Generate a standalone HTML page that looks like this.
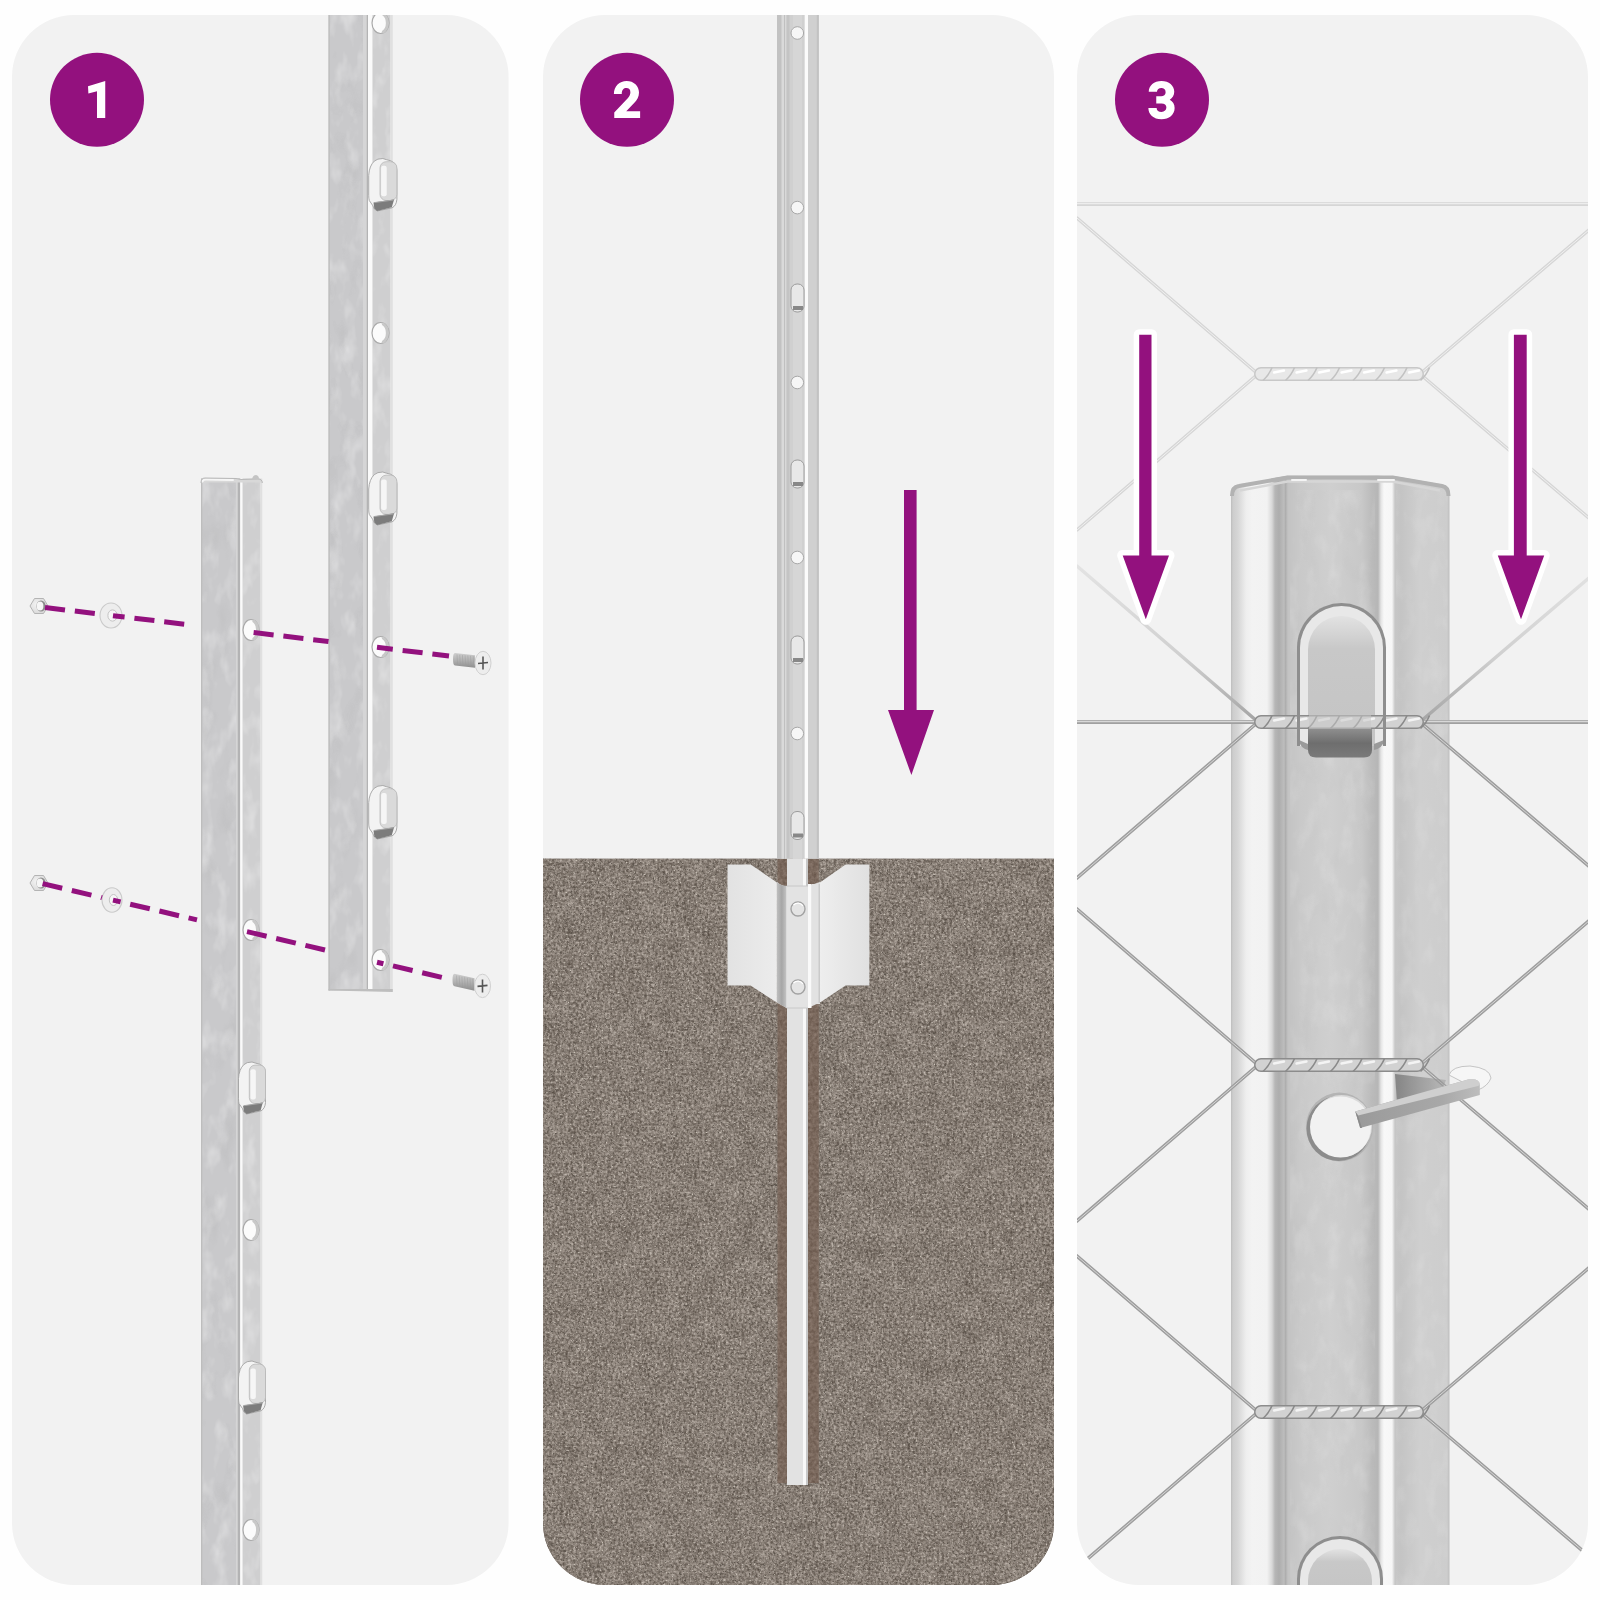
<!DOCTYPE html><html><head><meta charset="utf-8"><style>html,body{margin:0;padding:0;background:#FEFEFE;}svg{display:block}</style></head><body>
<svg width="1600" height="1600" viewBox="0 0 1600 1600">
<defs>
<clipPath id="c1"><rect x="12" y="15" width="496.6" height="1570" rx="62"/></clipPath>
<clipPath id="c2"><rect x="543" y="15" width="511" height="1570" rx="62"/></clipPath>
<clipPath id="c3"><rect x="1077" y="15" width="511" height="1570" rx="62"/></clipPath>
<filter id="gnoise" x="0" y="0" width="100%" height="100%" filterUnits="objectBoundingBox" color-interpolation-filters="sRGB">
<feTurbulence type="fractalNoise" baseFrequency="0.38" numOctaves="3" seed="3" result="n1"/>
<feTurbulence type="fractalNoise" baseFrequency="0.05" numOctaves="3" seed="8" result="n2"/>
<feComposite in="n1" in2="n2" operator="arithmetic" k1="0" k2="0.8" k3="0.2" k4="0" result="n"/>
<feColorMatrix in="n" type="matrix" values="0.6 0 0 0 0.235  0.6 0 0 0 0.197  0.6 0 0 0 0.163  0 0 0 0 1" result="c"/>
<feComposite in="c" in2="SourceGraphic" operator="in"/>
</filter>
<filter id="gspk" x="0" y="0" width="100%" height="100%" filterUnits="objectBoundingBox" color-interpolation-filters="sRGB">
<feTurbulence type="fractalNoise" baseFrequency="0.5" numOctaves="2" seed="11" result="n"/>
<feColorMatrix in="n" type="matrix" values="0 0 0 0 0.80  0 0 0 0 0.77  0 0 0 0 0.73  5 0 0 0 -3.2" result="c"/>
<feComposite in="c" in2="SourceGraphic" operator="in" result="lt"/>
<feTurbulence type="fractalNoise" baseFrequency="0.45" numOctaves="2" seed="23" result="m"/>
<feColorMatrix in="m" type="matrix" values="0 0 0 0 0.36  0 0 0 0 0.33  0 0 0 0 0.30  -5 0 0 0 1.95" result="d"/>
<feComposite in="d" in2="SourceGraphic" operator="in" result="dk"/>
<feMerge><feMergeNode in="dk"/><feMergeNode in="lt"/></feMerge>
</filter>
<filter id="hnoise" x="0" y="0" width="100%" height="100%" filterUnits="objectBoundingBox" color-interpolation-filters="sRGB">
<feTurbulence type="fractalNoise" baseFrequency="0.3" numOctaves="3" seed="5" result="n"/>
<feColorMatrix in="n" type="matrix" values="0.2 0 0 0 0.38  0.2 0 0 0 0.31  0.2 0 0 0 0.265  0 0 0 0 1" result="c"/>
<feComposite in="c" in2="SourceGraphic" operator="in"/>
</filter>
<filter id="galv" color-interpolation-filters="sRGB">
<feTurbulence type="fractalNoise" baseFrequency="0.07 0.035" numOctaves="3" seed="2" result="n"/>
<feColorMatrix in="n" type="matrix" values="0 0 0 0 1  0 0 0 0 1  0 0 0 0 1  0.8 0 0 0 -0.38" result="c"/>
<feComposite in="c" in2="SourceGraphic" operator="in"/>
</filter>
<filter id="galvd" color-interpolation-filters="sRGB">
<feTurbulence type="fractalNoise" baseFrequency="0.05 0.025" numOctaves="3" seed="9" result="n"/>
<feColorMatrix in="n" type="matrix" values="0 0 0 0 0.55  0 0 0 0 0.55  0 0 0 0 0.55  0.5 0 0 0 -0.27" result="c"/>
<feComposite in="c" in2="SourceGraphic" operator="in"/>
</filter>
</defs>
<rect x="12" y="15" width="496.6" height="1570" rx="62" fill="#F2F2F2"/>
<rect x="543" y="15" width="511" height="1570" rx="62" fill="#F2F2F2"/>
<rect x="1077" y="15" width="511" height="1570" rx="62" fill="#F2F2F2"/>
<g clip-path="url(#c1)">
<rect x="201" y="478.5" width="35" height="1121.5" fill="#C9C9CB"/>
<rect x="201" y="478.5" width="1.3" height="1121.5" fill="#BDBDBD"/>
<rect x="236" y="478.5" width="1.5" height="1121.5" fill="#D5D5D6"/>
<rect x="237.5" y="478.5" width="2.8000000000000114" height="1121.5" fill="#B3B3B4"/>
<rect x="240.3" y="478.5" width="2.299999999999983" height="1121.5" fill="#FAFAFA"/>
<rect x="242.6" y="478.5" width="18.00000000000003" height="1121.5" fill="#CFCFD0"/>
<rect x="260.6" y="478.5" width="1.6999999999999886" height="1121.5" fill="#E0E0E0"/>
<rect x="202.3" y="478.5" width="33.7" height="1121.5" fill="#000" filter="url(#galv)"/>
<rect x="242.6" y="478.5" width="18.00000000000003" height="1121.5" fill="#000" filter="url(#galv)"/>
<rect x="202.3" y="478.5" width="33.7" height="1121.5" fill="#000" filter="url(#galvd)" opacity="0.6"/>
<path d="M201,483 Q201,478 205,478 L236,478.5 L241,479.5 L258,479 Q262.3,479 262.3,482 L262.3,482.5 L201,482.5 Z" fill="#D8D8D8"/>
<path d="M202.5,481.5 Q203,479.5 206,479.5 L233,480" stroke="#F6F6F6" stroke-width="2" fill="none" stroke-linecap="round"/>
<path d="M201,483 Q201,478 205,478 L236,478.5 L241,479.5 L258,479 Q262.3,479 262.3,483" stroke="#B8B8B8" stroke-width="1" fill="none"/>
<path d="M252,479 Q253,475 256,475 Q259,475.5 259,479 Z" fill="#C4C4C4"/>
<ellipse cx="251" cy="630" rx="8" ry="10.5" fill="#FBFBFB" stroke="#A9A9A9" stroke-width="1.2"/>
<path d="M253,620.5 A8 10.5 0 0 1 253,639.5" fill="none" stroke="#C8C8C8" stroke-width="3"/>
<ellipse cx="251" cy="930" rx="8" ry="10.5" fill="#FBFBFB" stroke="#A9A9A9" stroke-width="1.2"/>
<path d="M253,920.5 A8 10.5 0 0 1 253,939.5" fill="none" stroke="#C8C8C8" stroke-width="3"/>
<ellipse cx="251" cy="1230" rx="8" ry="10.5" fill="#FBFBFB" stroke="#A9A9A9" stroke-width="1.2"/>
<path d="M253,1220.5 A8 10.5 0 0 1 253,1239.5" fill="none" stroke="#C8C8C8" stroke-width="3"/>
<ellipse cx="251" cy="1530" rx="8" ry="10.5" fill="#FBFBFB" stroke="#A9A9A9" stroke-width="1.2"/>
<path d="M253,1520.5 A8 10.5 0 0 1 253,1539.5" fill="none" stroke="#C8C8C8" stroke-width="3"/>
<path d="M243.9,1064.6 Q246.6,1062.0 252.0,1062.0 L255.2,1063.0 Q265.5,1064.6 265.5,1073.4 L265.5,1102.6 Q265.0,1108.8 260.9,1110.9 L246.6,1114.0 Q243.1,1112.4 242.6,1108.8 L239.0,1103.6 Q238.5,1101.5 238.5,1098.4 L238.5,1078.6 Q239.0,1069.3 243.9,1064.6 Z" fill="#F3F3F3" stroke="#A2A2A2" stroke-width="0.9"/>
<rect x="249.3" y="1065.1" width="16.2" height="38.5" rx="5.9" fill="#DADADA" stroke="#B9B9B9" stroke-width="0.8"/>
<rect x="250.4" y="1069.3" width="5.4" height="30.2" rx="2" fill="#F6F6F6"/>
<path d="M243.1,1105.7 L262.8,1102.6 L260.6,1110.4 L246.6,1114.0 L243.9,1111.4 Z" fill="#7C7C7C"/>
<path d="M243.9,1105.7 L262.3,1103.1" stroke="#A8A8A8" stroke-width="1"/>
<path d="M243.9,1363.7 Q246.6,1361.0 252.0,1361.0 L255.2,1362.1 Q265.5,1363.7 265.5,1372.7 L265.5,1402.3 Q265.0,1408.7 260.9,1410.8 L246.6,1414.0 Q243.1,1412.4 242.6,1408.7 L239.0,1403.4 Q238.5,1401.3 238.5,1398.1 L238.5,1378.0 Q239.0,1368.4 243.9,1363.7 Z" fill="#F3F3F3" stroke="#A2A2A2" stroke-width="0.9"/>
<rect x="249.3" y="1364.2" width="16.2" height="39.2" rx="5.9" fill="#DADADA" stroke="#B9B9B9" stroke-width="0.8"/>
<rect x="250.4" y="1368.4" width="5.4" height="30.7" rx="2" fill="#F6F6F6"/>
<path d="M243.1,1405.5 L262.8,1402.3 L260.6,1410.3 L246.6,1414.0 L243.9,1411.3 Z" fill="#7C7C7C"/>
<path d="M243.9,1405.5 L262.3,1402.9" stroke="#A8A8A8" stroke-width="1"/>
<g>
<rect x="328.5" y="0" width="34.5" height="990.5" fill="#C9C9CB"/>
<rect x="328.5" y="0" width="1.3" height="990.5" fill="#BDBDBD"/>
<rect x="363" y="0" width="3.5" height="990.5" fill="#D5D5D6"/>
<rect x="366.5" y="0" width="1.5" height="990.5" fill="#B3B3B4"/>
<rect x="368" y="0" width="4.5" height="990.5" fill="#FAFAFA"/>
<rect x="372.5" y="0" width="18.0" height="990.5" fill="#CFCFD0"/>
<rect x="390.5" y="0" width="2.3000000000000114" height="990.5" fill="#E0E0E0"/>
<rect x="329.8" y="0" width="33.2" height="990.5" fill="#000" filter="url(#galv)"/>
<rect x="372.5" y="0" width="18.0" height="990.5" fill="#000" filter="url(#galv)"/>
<rect x="329.8" y="0" width="33.2" height="990.5" fill="#000" filter="url(#galvd)" opacity="0.6"/>
<path d="M328.5,989 L392.8,989 L392.8,992 L328.5,990.5 Z" fill="#BEBEBE"/>
<ellipse cx="380.5" cy="23" rx="8.5" ry="10.5" fill="#FBFBFB" stroke="#A9A9A9" stroke-width="1.2"/>
<path d="M382.5,13.5 A8.5 10.5 0 0 1 382.5,32.5" fill="none" stroke="#C8C8C8" stroke-width="3"/>
<ellipse cx="380.5" cy="333" rx="8.5" ry="10.5" fill="#FBFBFB" stroke="#A9A9A9" stroke-width="1.2"/>
<path d="M382.5,323.5 A8.5 10.5 0 0 1 382.5,342.5" fill="none" stroke="#C8C8C8" stroke-width="3"/>
<ellipse cx="380.5" cy="647" rx="8.5" ry="10.5" fill="#FBFBFB" stroke="#A9A9A9" stroke-width="1.2"/>
<path d="M382.5,637.5 A8.5 10.5 0 0 1 382.5,656.5" fill="none" stroke="#C8C8C8" stroke-width="3"/>
<ellipse cx="380.5" cy="960" rx="8.5" ry="10.5" fill="#FBFBFB" stroke="#A9A9A9" stroke-width="1.2"/>
<path d="M382.5,950.5 A8.5 10.5 0 0 1 382.5,969.5" fill="none" stroke="#C8C8C8" stroke-width="3"/>
<path d="M374.3,161.1 Q377.2,158.5 382.8,158.5 L386.2,159.6 Q396.9,161.1 396.9,170.1 L396.9,199.4 Q396.3,205.8 392.1,207.8 L377.2,211.0 Q373.5,209.4 372.9,205.8 L369.3,200.5 Q368.7,198.4 368.7,195.2 L368.7,175.3 Q369.3,165.8 374.3,161.1 Z" fill="#F3F3F3" stroke="#A2A2A2" stroke-width="0.9"/>
<rect x="380.0" y="161.7" width="16.9" height="38.8" rx="6.2" fill="#DADADA" stroke="#B9B9B9" stroke-width="0.8"/>
<rect x="381.1" y="165.8" width="5.6" height="30.5" rx="2" fill="#F6F6F6"/>
<path d="M373.5,202.6 L394.1,199.4 L391.8,207.3 L377.2,211.0 L374.3,208.4 Z" fill="#7C7C7C"/>
<path d="M374.3,202.6 L393.5,200.0" stroke="#A8A8A8" stroke-width="1"/>
<path d="M374.3,474.6 Q377.2,472.0 382.8,472.0 L386.2,473.1 Q396.9,474.6 396.9,483.7 L396.9,513.3 Q396.3,519.7 392.1,521.8 L377.2,525.0 Q373.5,523.4 372.9,519.7 L369.3,514.4 Q368.7,512.3 368.7,509.1 L368.7,489.0 Q369.3,479.4 374.3,474.6 Z" fill="#F3F3F3" stroke="#A2A2A2" stroke-width="0.9"/>
<rect x="380.0" y="475.2" width="16.9" height="39.2" rx="6.2" fill="#DADADA" stroke="#B9B9B9" stroke-width="0.8"/>
<rect x="381.1" y="479.4" width="5.6" height="30.7" rx="2" fill="#F6F6F6"/>
<path d="M373.5,516.5 L394.1,513.3 L391.8,521.3 L377.2,525.0 L374.3,522.4 Z" fill="#7C7C7C"/>
<path d="M374.3,516.5 L393.5,513.9" stroke="#A8A8A8" stroke-width="1"/>
<path d="M374.3,788.2 Q377.2,785.5 382.8,785.5 L386.2,786.6 Q396.9,788.2 396.9,797.3 L396.9,827.2 Q396.3,833.6 392.1,835.8 L377.2,839.0 Q373.5,837.4 372.9,833.6 L369.3,828.3 Q368.7,826.2 368.7,823.0 L368.7,802.6 Q369.3,793.0 374.3,788.2 Z" fill="#F3F3F3" stroke="#A2A2A2" stroke-width="0.9"/>
<rect x="380.0" y="788.7" width="16.9" height="39.6" rx="6.2" fill="#DADADA" stroke="#B9B9B9" stroke-width="0.8"/>
<rect x="381.1" y="793.0" width="5.6" height="31.0" rx="2" fill="#F6F6F6"/>
<path d="M373.5,830.4 L394.1,827.2 L391.8,835.3 L377.2,839.0 L374.3,836.3 Z" fill="#7C7C7C"/>
<path d="M374.3,830.4 L393.5,827.8" stroke="#A8A8A8" stroke-width="1"/>
</g>
<defs><linearGradient id="shank" x1="0" y1="0" x2="0" y2="1"><stop offset="0" stop-color="#CFCFCF"/><stop offset="0.45" stop-color="#B4B4B4"/><stop offset="1" stop-color="#8E8E8E"/></linearGradient><radialGradient id="nutg" cx="0.4" cy="0.4" r="0.7"><stop offset="0" stop-color="#F4F4F4"/><stop offset="1" stop-color="#D6D6D6"/></radialGradient></defs>
<polygon points="48.0,606.0 43.5,613.5 34.5,613.5 30.0,606.0 34.5,598.5 43.5,598.5" fill="url(#nutg)" stroke="#B4B4B4" stroke-width="1" stroke-linejoin="round"/>
<ellipse cx="41" cy="606" rx="4.6" ry="5.6" fill="#8C8C8C"/>
<ellipse cx="40" cy="606" rx="3.4" ry="4.6" fill="#F6F6F6"/>
<ellipse cx="111" cy="615.5" rx="11" ry="12.5" fill="#EDEDED" stroke="#CACACA" stroke-width="1.1"/>
<ellipse cx="112.5" cy="615.5" rx="4.62" ry="5.625" fill="#F7F7F7" stroke="#BDBDBD" stroke-width="0.9"/>
<path d="M455,653.05 L475,655.25 L475,667.75 L455,665.55 Q453,665.55 453,659.3 Q453,653.05 455,653.05 Z" fill="url(#shank)"/>
<line x1="457.0" y1="654.4" x2="457.6" y2="664.9" stroke="#9A9A9A" stroke-width="0.7" opacity="0.6"/>
<line x1="459.7" y1="654.7" x2="460.3" y2="665.2" stroke="#9A9A9A" stroke-width="0.7" opacity="0.6"/>
<line x1="462.4" y1="655.0" x2="463.0" y2="665.5" stroke="#9A9A9A" stroke-width="0.7" opacity="0.6"/>
<line x1="465.1" y1="655.3" x2="465.7" y2="665.8" stroke="#9A9A9A" stroke-width="0.7" opacity="0.6"/>
<line x1="467.8" y1="655.5" x2="468.4" y2="666.0" stroke="#9A9A9A" stroke-width="0.7" opacity="0.6"/>
<line x1="470.5" y1="655.8" x2="471.1" y2="666.3" stroke="#9A9A9A" stroke-width="0.7" opacity="0.6"/>
<line x1="473.2" y1="656.1" x2="473.8" y2="666.6" stroke="#9A9A9A" stroke-width="0.7" opacity="0.6"/>
<ellipse cx="483" cy="663.0" rx="8" ry="11.7" fill="#EDEDED" stroke="#D0D0D0" stroke-width="1"/>
<path d="M478,663.5 L488,662.5 M483,656.5 L483,669.5" stroke="#555555" stroke-width="1.6"/>
<polygon points="48.0,883.0 43.5,890.5 34.5,890.5 30.0,883.0 34.5,875.5 43.5,875.5" fill="url(#nutg)" stroke="#B4B4B4" stroke-width="1" stroke-linejoin="round"/>
<ellipse cx="41" cy="883" rx="4.6" ry="5.6" fill="#8C8C8C"/>
<ellipse cx="40" cy="883" rx="3.4" ry="4.6" fill="#F6F6F6"/>
<ellipse cx="112" cy="900" rx="10" ry="12.2" fill="#EDEDED" stroke="#CACACA" stroke-width="1.1"/>
<ellipse cx="113.5" cy="900" rx="4.2" ry="5.49" fill="#F7F7F7" stroke="#BDBDBD" stroke-width="0.9"/>
<path d="M454.5,973.75 L474.5,978.15 L474.5,990.65 L454.5,986.25 Q452.5,986.25 452.5,980 Q452.5,973.75 454.5,973.75 Z" fill="url(#shank)"/>
<line x1="456.5" y1="975.5" x2="457.1" y2="986.0" stroke="#9A9A9A" stroke-width="0.7" opacity="0.6"/>
<line x1="459.2" y1="976.1" x2="459.8" y2="986.6" stroke="#9A9A9A" stroke-width="0.7" opacity="0.6"/>
<line x1="461.9" y1="976.6" x2="462.5" y2="987.1" stroke="#9A9A9A" stroke-width="0.7" opacity="0.6"/>
<line x1="464.6" y1="977.2" x2="465.2" y2="987.7" stroke="#9A9A9A" stroke-width="0.7" opacity="0.6"/>
<line x1="467.3" y1="977.7" x2="467.9" y2="988.2" stroke="#9A9A9A" stroke-width="0.7" opacity="0.6"/>
<line x1="470.0" y1="978.2" x2="470.6" y2="988.8" stroke="#9A9A9A" stroke-width="0.7" opacity="0.6"/>
<line x1="472.7" y1="978.8" x2="473.3" y2="989.3" stroke="#9A9A9A" stroke-width="0.7" opacity="0.6"/>
<ellipse cx="482.5" cy="985.9" rx="8" ry="11.7" fill="#EDEDED" stroke="#D0D0D0" stroke-width="1"/>
<path d="M477.5,986.4 L487.5,985.4 M482.5,979.4 L482.5,992.4" stroke="#555555" stroke-width="1.6"/>
<line x1="45.0" y1="607.5" x2="65.0" y2="609.9" stroke="#93117E" stroke-width="5"/>
<line x1="74.8" y1="611.1" x2="94.8" y2="613.5" stroke="#93117E" stroke-width="5"/>
<line x1="113.0" y1="615.7" x2="124.6" y2="617.1" stroke="#93117E" stroke-width="5"/>
<line x1="134.4" y1="618.2" x2="154.4" y2="620.6" stroke="#93117E" stroke-width="5"/>
<line x1="164.2" y1="621.8" x2="184.2" y2="624.2" stroke="#93117E" stroke-width="5"/>
<line x1="253.6" y1="632.5" x2="273.6" y2="634.9" stroke="#93117E" stroke-width="5"/>
<line x1="283.4" y1="636.1" x2="303.4" y2="638.5" stroke="#93117E" stroke-width="5"/>
<line x1="313.2" y1="639.7" x2="328.5" y2="641.5" stroke="#93117E" stroke-width="5"/>
<line x1="377.0" y1="647.3" x2="392.8" y2="649.2" stroke="#93117E" stroke-width="5"/>
<line x1="402.6" y1="650.4" x2="422.6" y2="652.8" stroke="#93117E" stroke-width="5"/>
<line x1="432.4" y1="654.0" x2="449.0" y2="656.0" stroke="#93117E" stroke-width="5"/>
<line x1="42.6" y1="883.6" x2="62.2" y2="888.2" stroke="#93117E" stroke-width="5"/>
<line x1="71.8" y1="890.5" x2="91.4" y2="895.1" stroke="#93117E" stroke-width="5"/>
<line x1="101.0" y1="897.3" x2="102.0" y2="897.6" stroke="#93117E" stroke-width="5"/>
<line x1="113.0" y1="900.1" x2="120.6" y2="901.9" stroke="#93117E" stroke-width="5"/>
<line x1="130.2" y1="904.2" x2="149.8" y2="908.8" stroke="#93117E" stroke-width="5"/>
<line x1="159.4" y1="911.0" x2="179.0" y2="915.7" stroke="#93117E" stroke-width="5"/>
<line x1="188.6" y1="917.9" x2="197.0" y2="919.9" stroke="#93117E" stroke-width="5"/>
<line x1="247.0" y1="931.6" x2="266.6" y2="936.2" stroke="#93117E" stroke-width="5"/>
<line x1="276.2" y1="938.5" x2="295.8" y2="943.1" stroke="#93117E" stroke-width="5"/>
<line x1="305.4" y1="945.4" x2="325.0" y2="950.0" stroke="#93117E" stroke-width="5"/>
<line x1="377.0" y1="962.2" x2="383.4" y2="963.7" stroke="#93117E" stroke-width="5"/>
<line x1="393.0" y1="965.9" x2="412.6" y2="970.5" stroke="#93117E" stroke-width="5"/>
<line x1="422.2" y1="972.8" x2="441.8" y2="977.4" stroke="#93117E" stroke-width="5"/>
<circle cx="97" cy="99.8" r="47" fill="#93117E"/>
<path transform="translate(40,40) scale(0.075)" fill="#FFFFFF" d="M640,615 L870,545 L870,1040 L760,1040 L760,683 L645,712 Z"/>
</g>
<g clip-path="url(#c2)">
<rect x="543" y="858.75" width="511" height="741.25" fill="#80766E"/>
<rect x="543" y="858.75" width="511" height="741.25" fill="#000" filter="url(#gnoise)"/>
<rect x="543" y="858.75" width="511" height="741.25" fill="#000" filter="url(#gspk)"/>
<rect x="777.5" y="858.75" width="41.25" height="624.25" fill="#000" filter="url(#hnoise)"/>
<rect x="777" y="0" width="9.5" height="858.75" fill="#C2C2C2"/>
<rect x="781.5" y="0" width="2.8" height="858.75" fill="#DADADA"/>
<rect x="784.3" y="0" width="1" height="858.75" fill="#BDBDBD"/>
<rect x="785.3" y="0" width="1.2" height="858.75" fill="#E4E4E4"/>
<rect x="786.5" y="0" width="18.3" height="858.75" fill="#D0D0D0"/>
<rect x="786.5" y="0" width="3" height="858.75" fill="#C4C4C4"/>
<rect x="793" y="0" width="9" height="858.75" fill="#D6D6D6"/>
<rect x="804.8" y="0" width="3.2" height="858.75" fill="#FBFBFB"/>
<rect x="808" y="0" width="10.8" height="858.75" fill="#D0D0D0"/>
<rect x="816.8" y="0" width="2" height="858.75" fill="#C2C2C2"/>
<circle cx="797.3" cy="33" r="6.3" fill="#F6F6F6" stroke="#A8A8A8" stroke-width="1"/>
<circle cx="797.3" cy="207.6" r="6.3" fill="#F6F6F6" stroke="#A8A8A8" stroke-width="1"/>
<circle cx="797.3" cy="382.5" r="6.3" fill="#F6F6F6" stroke="#A8A8A8" stroke-width="1"/>
<circle cx="797.3" cy="557.5" r="6.3" fill="#F6F6F6" stroke="#A8A8A8" stroke-width="1"/>
<circle cx="797.3" cy="733.5" r="6.3" fill="#F6F6F6" stroke="#A8A8A8" stroke-width="1"/>
<rect x="791" y="284" width="13" height="28" rx="6" fill="#E8E8E8" stroke="#9C9C9C" stroke-width="1"/>
<rect x="793" y="306" width="10" height="4" fill="#888888"/>
<rect x="791" y="460" width="13" height="28" rx="6" fill="#E8E8E8" stroke="#9C9C9C" stroke-width="1"/>
<rect x="793" y="482" width="10" height="4" fill="#888888"/>
<rect x="791" y="636" width="13" height="28" rx="6" fill="#E8E8E8" stroke="#9C9C9C" stroke-width="1"/>
<rect x="793" y="658" width="10" height="4" fill="#888888"/>
<rect x="791" y="811.5" width="13" height="28" rx="6" fill="#E8E8E8" stroke="#9C9C9C" stroke-width="1"/>
<rect x="793" y="833.5" width="10" height="4" fill="#888888"/>
<rect x="787" y="858.75" width="21" height="626.25" fill="#E2E2E2"/>
<rect x="803" y="858.75" width="3" height="626.25" fill="#F8F8F8"/>
<rect x="806" y="858.75" width="2" height="626.25" fill="#C8C8C8"/>
<defs><linearGradient id="wingL" x1="0" y1="0" x2="1" y2="0"><stop offset="0" stop-color="#E2E2E2"/><stop offset="1" stop-color="#ECECEC"/></linearGradient><linearGradient id="wingR" x1="0" y1="0" x2="1" y2="0"><stop offset="0" stop-color="#EEEEEE"/><stop offset="1" stop-color="#E0E0E0"/></linearGradient><linearGradient id="ancL" gradientUnits="userSpaceOnUse" x1="777" y1="0" x2="786.5" y2="0"><stop offset="0" stop-color="#BEBEBE"/><stop offset="0.5" stop-color="#A6A6A6"/><stop offset="1" stop-color="#C4C4C4"/></linearGradient></defs>
<path d="M727.5,864.4 L750.6,864.4 L776.9,882.5 L776.9,1002.5 L750.6,985.6 L727.5,985.6 Z" fill="url(#wingL)"/>
<path d="M869.4,864.4 L845.6,864.4 L820,882.5 L820,1002.5 L845.6,985.6 L869.4,985.6 Z" fill="url(#wingR)"/>
<path d="M777,882 Q781,886 786.5,886 L808,886 L820,882 L820,1002.5 L808,1008 L786.5,1008 L777,1002.5 Z" fill="#E0E0E0"/>
<path d="M777,882 Q781,886 786.5,886 L786.5,1008 L777,1002.5 Z" fill="url(#ancL)"/>
<rect x="786.5" y="886" width="21.5" height="122" fill="#E3E3E3"/>
<line x1="786.5" y1="886" x2="808" y2="886" stroke="#C8C8C8" stroke-width="1"/>
<line x1="786.5" y1="1008" x2="808" y2="1008" stroke="#C8C8C8" stroke-width="1"/>
<rect x="808" y="884" width="3.5" height="124" fill="#FAFAFA"/>
<rect x="811.5" y="884" width="8.5" height="120" fill="#E2E2E2"/>
<rect x="818.5" y="884" width="1.5" height="119" fill="#CACACA"/>
<circle cx="798" cy="909" r="7" fill="#E4E4E4" stroke="#A2A2A2" stroke-width="1.4"/>
<path d="M793.5,905 A6,6 0 0 1 803,906" fill="none" stroke="#FFFFFF" stroke-width="1.3"/>
<circle cx="798" cy="987" r="7" fill="#E4E4E4" stroke="#A2A2A2" stroke-width="1.4"/>
<path d="M793.5,983 A6,6 0 0 1 803,984" fill="none" stroke="#FFFFFF" stroke-width="1.3"/>
<path d="M904,490 L916.6,490 L916.6,710 L934,710 L911.4,775 L888,710 L904,710 Z" fill="#93117E"/>
<circle cx="627" cy="99.8" r="47" fill="#93117E"/>
<path transform="translate(570,40) scale(0.075)" fill="#FFFFFF" d="M585,720 C585,615 660,545 755,545 C850,545 920,610 920,700 C920,760 895,800 855,840 L750,950 L935,950 L935,1040 L590,1040 L590,965 L770,775 C795,748 805,725 805,695 C805,660 785,640 752,640 C715,640 690,665 690,720 Z"/>
</g>
<g clip-path="url(#c3)">
<defs><linearGradient id="p3g" gradientUnits="userSpaceOnUse" x1="1231" y1="0" x2="1449.5" y2="0"><stop offset="0.0000" stop-color="#BDBDBD"/><stop offset="0.0092" stop-color="#CDCDCD"/><stop offset="0.0320" stop-color="#D6D6D6"/><stop offset="0.0686" stop-color="#EEEEEE"/><stop offset="0.0961" stop-color="#F3F3F3"/><stop offset="0.1648" stop-color="#F2F2F2"/><stop offset="0.1876" stop-color="#D8D8D8"/><stop offset="0.2014" stop-color="#B6B6B6"/><stop offset="0.2197" stop-color="#ADADAD"/><stop offset="0.2426" stop-color="#BDBDBD"/><stop offset="0.2494" stop-color="#AEAEAE"/><stop offset="0.2609" stop-color="#C3C3C3"/><stop offset="0.3158" stop-color="#C9C9C9"/><stop offset="0.4531" stop-color="#CFCFCF"/><stop offset="0.5995" stop-color="#C8C8C8"/><stop offset="0.6453" stop-color="#BBBBBB"/><stop offset="0.6728" stop-color="#B6B6B6"/><stop offset="0.6865" stop-color="#E4E4E4"/><stop offset="0.7002" stop-color="#F8F8F8"/><stop offset="0.7368" stop-color="#F6F6F6"/><stop offset="0.7506" stop-color="#C6C6C6"/><stop offset="0.7780" stop-color="#C4C4C4"/><stop offset="0.8650" stop-color="#CFCFCF"/><stop offset="0.9886" stop-color="#CDCDCD"/><stop offset="1.0000" stop-color="#BEBEBE"/></linearGradient><linearGradient id="wg" gradientUnits="userSpaceOnUse" x1="0" y1="560" x2="0" y2="722"><stop offset="0" stop-color="#E4E4E4"/><stop offset="0.6" stop-color="#D0D0D0"/><stop offset="1" stop-color="#A4A4A4"/></linearGradient><linearGradient id="lipg" x1="0" y1="0" x2="0" y2="1"><stop offset="0" stop-color="#8E8E8E"/><stop offset="0.5" stop-color="#6E6E6E"/><stop offset="1" stop-color="#7A7A7A"/></linearGradient><linearGradient id="tongue" x1="0" y1="0" x2="0" y2="1"><stop offset="0" stop-color="#E2E2E2"/><stop offset="0.25" stop-color="#C8C8C8"/><stop offset="1" stop-color="#C4C4C4"/></linearGradient></defs>
<line x1="1077" y1="204" x2="1590" y2="204" stroke="#D6D6D6" stroke-width="4"/>
<line x1="1077" y1="203.5" x2="1590" y2="203.5" stroke="#EDEDED" stroke-width="1.4"/>
<path d="M1231,1600 L1231,492 Q1231,485.5 1238,484.5 L1287.5,475.7 L1392.5,475.7 L1442.5,484.5 Q1449.5,485.5 1449.5,492 L1449.5,1600 Z" fill="url(#p3g)"/>
<rect x="1290" y="490" width="85" height="1110" fill="#000" filter="url(#galv)" opacity="0.45"/>
<rect x="1396" y="490" width="52" height="1110" fill="#000" filter="url(#galv)" opacity="0.4"/>
<rect x="1290" y="490" width="85" height="1110" fill="#000" filter="url(#galvd)" opacity="0.3"/>
<path d="M1232,496 Q1232,487 1239,486 L1287.5,477.5 L1392.5,477.5 L1442,486 Q1448.5,487 1448.5,496" fill="none" stroke="#B2B2B2" stroke-width="4" stroke-linejoin="round"/>
<path d="M1240,490.5 L1287.5,481.5 L1392.5,481.5 L1440,490.5" fill="none" stroke="#D6D6D6" stroke-width="2.5"/>
<path d="M1292,480 L1306,480 M1378,480 L1394,480" stroke="#F4F4F4" stroke-width="2" stroke-linecap="round"/>
<path d="M1297,746 L1297,647.5 A44.5,44.5 0 0 1 1386,647.5 L1386,746 Z" fill="#8E8E8E"/>
<path d="M1300,746 L1300,647.5 A41.5,41.5 0 0 1 1383,647.5 L1383,746 Z" fill="#E8E8E8"/>
<path d="M1308,746 L1308,649.5 A33.5,33.5 0 0 1 1375,649.5 L1375,746 Z" fill="url(#tongue)"/>
<path d="M1308,729 L1372,729 L1372,750 Q1372,757.5 1364,757.5 L1316,757.5 Q1308,757.5 1308,750 Z" fill="url(#lipg)"/>
<path d="M1299,740 Q1300,748 1308,750 L1308,744 Z M1384,740 Q1383,748 1374,750 L1374,744 Z" fill="#9A9A9A"/>
<ellipse cx="1339.5" cy="1127" rx="33.5" ry="34.5" fill="#B4B4B4"/>
<ellipse cx="1338.5" cy="1128.5" rx="32" ry="32.5" fill="#8C8C8C"/>
<ellipse cx="1341.5" cy="1126" rx="30.5" ry="31" fill="#DADADA"/>
<ellipse cx="1340.5" cy="1127" rx="30.5" ry="30.5" fill="#F2F2F2"/>
<path d="M1297,1600 L1297,1579.0 A43.0,43.0 0 0 1 1383,1579.0 L1383,1600 Z" fill="#8E8E8E"/>
<path d="M1300,1600 L1300,1579.0 A40.0,40.0 0 0 1 1380,1579.0 L1380,1600 Z" fill="#E8E8E8"/>
<path d="M1308,1600 L1308,1581.0 A32.0,32.0 0 0 1 1372,1581.0 L1372,1600 Z" fill="url(#tongue)"/>
<line x1="1258" y1="374" x2="1077" y2="530" stroke="#D6D6D6" stroke-width="3.4" stroke-linecap="round"/>
<line x1="1258" y1="374" x2="1077" y2="530" stroke="#F0F0F0" stroke-width="1" stroke-linecap="round"/>
<line x1="1258" y1="374" x2="1077" y2="218" stroke="#D6D6D6" stroke-width="3.4" stroke-linecap="round"/>
<line x1="1258" y1="374" x2="1077" y2="218" stroke="#F0F0F0" stroke-width="1" stroke-linecap="round"/>
<line x1="1420" y1="374" x2="1590" y2="229" stroke="#D6D6D6" stroke-width="3.4" stroke-linecap="round"/>
<line x1="1420" y1="374" x2="1590" y2="229" stroke="#F0F0F0" stroke-width="1" stroke-linecap="round"/>
<line x1="1420" y1="374" x2="1590" y2="519" stroke="#D6D6D6" stroke-width="3.4" stroke-linecap="round"/>
<line x1="1420" y1="374" x2="1590" y2="519" stroke="#F0F0F0" stroke-width="1" stroke-linecap="round"/>
<line x1="1258" y1="722" x2="1077" y2="878" stroke="#9E9E9E" stroke-width="3.6" stroke-linecap="round"/>
<line x1="1258" y1="722" x2="1077" y2="878" stroke="#D6D6D6" stroke-width="1" stroke-linecap="round"/>
<line x1="1258" y1="722" x2="1077" y2="566" stroke="url(#wg)" stroke-width="3.4" stroke-linecap="round"/>
<line x1="1420" y1="722" x2="1590" y2="577" stroke="url(#wg)" stroke-width="3.4" stroke-linecap="round"/>
<line x1="1420" y1="722" x2="1590" y2="867" stroke="#9E9E9E" stroke-width="3.6" stroke-linecap="round"/>
<line x1="1420" y1="722" x2="1590" y2="867" stroke="#D6D6D6" stroke-width="1" stroke-linecap="round"/>
<line x1="1258" y1="1065" x2="1077" y2="1221" stroke="#9E9E9E" stroke-width="3.6" stroke-linecap="round"/>
<line x1="1258" y1="1065" x2="1077" y2="1221" stroke="#D6D6D6" stroke-width="1" stroke-linecap="round"/>
<line x1="1258" y1="1065" x2="1077" y2="909" stroke="#9E9E9E" stroke-width="3.6" stroke-linecap="round"/>
<line x1="1258" y1="1065" x2="1077" y2="909" stroke="#D6D6D6" stroke-width="1" stroke-linecap="round"/>
<line x1="1420" y1="1065" x2="1590" y2="920" stroke="#9E9E9E" stroke-width="3.6" stroke-linecap="round"/>
<line x1="1420" y1="1065" x2="1590" y2="920" stroke="#D6D6D6" stroke-width="1" stroke-linecap="round"/>
<line x1="1420" y1="1065" x2="1590" y2="1210" stroke="#9E9E9E" stroke-width="3.6" stroke-linecap="round"/>
<line x1="1420" y1="1065" x2="1590" y2="1210" stroke="#D6D6D6" stroke-width="1" stroke-linecap="round"/>
<line x1="1258" y1="1412" x2="1077" y2="1568" stroke="#9E9E9E" stroke-width="3.6" stroke-linecap="round"/>
<line x1="1258" y1="1412" x2="1077" y2="1568" stroke="#D6D6D6" stroke-width="1" stroke-linecap="round"/>
<line x1="1258" y1="1412" x2="1077" y2="1256" stroke="#9E9E9E" stroke-width="3.6" stroke-linecap="round"/>
<line x1="1258" y1="1412" x2="1077" y2="1256" stroke="#D6D6D6" stroke-width="1" stroke-linecap="round"/>
<line x1="1420" y1="1412" x2="1590" y2="1267" stroke="#9E9E9E" stroke-width="3.6" stroke-linecap="round"/>
<line x1="1420" y1="1412" x2="1590" y2="1267" stroke="#D6D6D6" stroke-width="1" stroke-linecap="round"/>
<line x1="1420" y1="1412" x2="1590" y2="1557" stroke="#9E9E9E" stroke-width="3.6" stroke-linecap="round"/>
<line x1="1420" y1="1412" x2="1590" y2="1557" stroke="#D6D6D6" stroke-width="1" stroke-linecap="round"/>
<line x1="1077" y1="722" x2="1258" y2="722" stroke="#A0A0A0" stroke-width="3.8"/>
<line x1="1077" y1="721.5" x2="1258" y2="721.5" stroke="#D8D8D8" stroke-width="1.4"/>
<line x1="1420" y1="722" x2="1590" y2="722" stroke="#A0A0A0" stroke-width="3.8"/>
<line x1="1420" y1="721.5" x2="1590" y2="721.5" stroke="#D8D8D8" stroke-width="1.4"/>
<line x1="1261" y1="374" x2="1417" y2="374" stroke="#C8C8C8" stroke-width="14" stroke-linecap="round"/>
<line x1="1261" y1="374" x2="1417" y2="374" stroke="#E8E8E8" stroke-width="11" stroke-linecap="round"/>
<path d="M1263.0,380.5 Q1269.0,375 1272.0,367.5" fill="none" stroke="#C2C2C2" stroke-width="1.6"/>
<line x1="1274.0" y1="372.5" x2="1284.0" y2="370.5" stroke="#FFFFFF" stroke-width="2.4" stroke-linecap="round"/>
<path d="M1285.5,380.5 Q1291.5,375 1294.5,367.5" fill="none" stroke="#C2C2C2" stroke-width="1.6"/>
<line x1="1296.5" y1="372.5" x2="1306.5" y2="370.5" stroke="#FFFFFF" stroke-width="2.4" stroke-linecap="round"/>
<path d="M1308.0,380.5 Q1314.0,375 1317.0,367.5" fill="none" stroke="#C2C2C2" stroke-width="1.6"/>
<line x1="1319.0" y1="372.5" x2="1329.0" y2="370.5" stroke="#FFFFFF" stroke-width="2.4" stroke-linecap="round"/>
<path d="M1330.5,380.5 Q1336.5,375 1339.5,367.5" fill="none" stroke="#C2C2C2" stroke-width="1.6"/>
<line x1="1341.5" y1="372.5" x2="1351.5" y2="370.5" stroke="#FFFFFF" stroke-width="2.4" stroke-linecap="round"/>
<path d="M1353.0,380.5 Q1359.0,375 1362.0,367.5" fill="none" stroke="#C2C2C2" stroke-width="1.6"/>
<line x1="1364.0" y1="372.5" x2="1374.0" y2="370.5" stroke="#FFFFFF" stroke-width="2.4" stroke-linecap="round"/>
<path d="M1375.5,380.5 Q1381.5,375 1384.5,367.5" fill="none" stroke="#C2C2C2" stroke-width="1.6"/>
<line x1="1386.5" y1="372.5" x2="1396.5" y2="370.5" stroke="#FFFFFF" stroke-width="2.4" stroke-linecap="round"/>
<path d="M1398.0,380.5 Q1404.0,375 1407.0,367.5" fill="none" stroke="#C2C2C2" stroke-width="1.6"/>
<line x1="1409.0" y1="372.5" x2="1419.0" y2="370.5" stroke="#FFFFFF" stroke-width="2.4" stroke-linecap="round"/>
<path d="M1420.5,380.5 Q1426.5,375 1429.5,367.5" fill="none" stroke="#C2C2C2" stroke-width="1.6"/>
<line x1="1261" y1="722" x2="1417" y2="722" stroke="#8C8C8C" stroke-width="14" stroke-linecap="round"/>
<line x1="1261" y1="722" x2="1417" y2="722" stroke="#D2D2D2" stroke-width="11" stroke-linecap="round"/>
<path d="M1263.0,728.5 Q1269.0,723 1272.0,715.5" fill="none" stroke="#8A8A8A" stroke-width="1.6"/>
<line x1="1274.0" y1="720.5" x2="1284.0" y2="718.5" stroke="#F4F4F4" stroke-width="2.4" stroke-linecap="round"/>
<path d="M1285.5,728.5 Q1291.5,723 1294.5,715.5" fill="none" stroke="#8A8A8A" stroke-width="1.6"/>
<line x1="1296.5" y1="720.5" x2="1306.5" y2="718.5" stroke="#F4F4F4" stroke-width="2.4" stroke-linecap="round"/>
<path d="M1308.0,728.5 Q1314.0,723 1317.0,715.5" fill="none" stroke="#8A8A8A" stroke-width="1.6"/>
<line x1="1319.0" y1="720.5" x2="1329.0" y2="718.5" stroke="#F4F4F4" stroke-width="2.4" stroke-linecap="round"/>
<path d="M1330.5,728.5 Q1336.5,723 1339.5,715.5" fill="none" stroke="#8A8A8A" stroke-width="1.6"/>
<line x1="1341.5" y1="720.5" x2="1351.5" y2="718.5" stroke="#F4F4F4" stroke-width="2.4" stroke-linecap="round"/>
<path d="M1353.0,728.5 Q1359.0,723 1362.0,715.5" fill="none" stroke="#8A8A8A" stroke-width="1.6"/>
<line x1="1364.0" y1="720.5" x2="1374.0" y2="718.5" stroke="#F4F4F4" stroke-width="2.4" stroke-linecap="round"/>
<path d="M1375.5,728.5 Q1381.5,723 1384.5,715.5" fill="none" stroke="#8A8A8A" stroke-width="1.6"/>
<line x1="1386.5" y1="720.5" x2="1396.5" y2="718.5" stroke="#F4F4F4" stroke-width="2.4" stroke-linecap="round"/>
<path d="M1398.0,728.5 Q1404.0,723 1407.0,715.5" fill="none" stroke="#8A8A8A" stroke-width="1.6"/>
<line x1="1409.0" y1="720.5" x2="1419.0" y2="718.5" stroke="#F4F4F4" stroke-width="2.4" stroke-linecap="round"/>
<path d="M1420.5,728.5 Q1426.5,723 1429.5,715.5" fill="none" stroke="#8A8A8A" stroke-width="1.6"/>
<line x1="1261" y1="1065" x2="1417" y2="1065" stroke="#8C8C8C" stroke-width="14" stroke-linecap="round"/>
<line x1="1261" y1="1065" x2="1417" y2="1065" stroke="#D2D2D2" stroke-width="11" stroke-linecap="round"/>
<path d="M1263.0,1071.5 Q1269.0,1066 1272.0,1058.5" fill="none" stroke="#8A8A8A" stroke-width="1.6"/>
<line x1="1274.0" y1="1063.5" x2="1284.0" y2="1061.5" stroke="#F4F4F4" stroke-width="2.4" stroke-linecap="round"/>
<path d="M1285.5,1071.5 Q1291.5,1066 1294.5,1058.5" fill="none" stroke="#8A8A8A" stroke-width="1.6"/>
<line x1="1296.5" y1="1063.5" x2="1306.5" y2="1061.5" stroke="#F4F4F4" stroke-width="2.4" stroke-linecap="round"/>
<path d="M1308.0,1071.5 Q1314.0,1066 1317.0,1058.5" fill="none" stroke="#8A8A8A" stroke-width="1.6"/>
<line x1="1319.0" y1="1063.5" x2="1329.0" y2="1061.5" stroke="#F4F4F4" stroke-width="2.4" stroke-linecap="round"/>
<path d="M1330.5,1071.5 Q1336.5,1066 1339.5,1058.5" fill="none" stroke="#8A8A8A" stroke-width="1.6"/>
<line x1="1341.5" y1="1063.5" x2="1351.5" y2="1061.5" stroke="#F4F4F4" stroke-width="2.4" stroke-linecap="round"/>
<path d="M1353.0,1071.5 Q1359.0,1066 1362.0,1058.5" fill="none" stroke="#8A8A8A" stroke-width="1.6"/>
<line x1="1364.0" y1="1063.5" x2="1374.0" y2="1061.5" stroke="#F4F4F4" stroke-width="2.4" stroke-linecap="round"/>
<path d="M1375.5,1071.5 Q1381.5,1066 1384.5,1058.5" fill="none" stroke="#8A8A8A" stroke-width="1.6"/>
<line x1="1386.5" y1="1063.5" x2="1396.5" y2="1061.5" stroke="#F4F4F4" stroke-width="2.4" stroke-linecap="round"/>
<path d="M1398.0,1071.5 Q1404.0,1066 1407.0,1058.5" fill="none" stroke="#8A8A8A" stroke-width="1.6"/>
<line x1="1409.0" y1="1063.5" x2="1419.0" y2="1061.5" stroke="#F4F4F4" stroke-width="2.4" stroke-linecap="round"/>
<path d="M1420.5,1071.5 Q1426.5,1066 1429.5,1058.5" fill="none" stroke="#8A8A8A" stroke-width="1.6"/>
<line x1="1261" y1="1412" x2="1417" y2="1412" stroke="#8C8C8C" stroke-width="14" stroke-linecap="round"/>
<line x1="1261" y1="1412" x2="1417" y2="1412" stroke="#D2D2D2" stroke-width="11" stroke-linecap="round"/>
<path d="M1263.0,1418.5 Q1269.0,1413 1272.0,1405.5" fill="none" stroke="#8A8A8A" stroke-width="1.6"/>
<line x1="1274.0" y1="1410.5" x2="1284.0" y2="1408.5" stroke="#F4F4F4" stroke-width="2.4" stroke-linecap="round"/>
<path d="M1285.5,1418.5 Q1291.5,1413 1294.5,1405.5" fill="none" stroke="#8A8A8A" stroke-width="1.6"/>
<line x1="1296.5" y1="1410.5" x2="1306.5" y2="1408.5" stroke="#F4F4F4" stroke-width="2.4" stroke-linecap="round"/>
<path d="M1308.0,1418.5 Q1314.0,1413 1317.0,1405.5" fill="none" stroke="#8A8A8A" stroke-width="1.6"/>
<line x1="1319.0" y1="1410.5" x2="1329.0" y2="1408.5" stroke="#F4F4F4" stroke-width="2.4" stroke-linecap="round"/>
<path d="M1330.5,1418.5 Q1336.5,1413 1339.5,1405.5" fill="none" stroke="#8A8A8A" stroke-width="1.6"/>
<line x1="1341.5" y1="1410.5" x2="1351.5" y2="1408.5" stroke="#F4F4F4" stroke-width="2.4" stroke-linecap="round"/>
<path d="M1353.0,1418.5 Q1359.0,1413 1362.0,1405.5" fill="none" stroke="#8A8A8A" stroke-width="1.6"/>
<line x1="1364.0" y1="1410.5" x2="1374.0" y2="1408.5" stroke="#F4F4F4" stroke-width="2.4" stroke-linecap="round"/>
<path d="M1375.5,1418.5 Q1381.5,1413 1384.5,1405.5" fill="none" stroke="#8A8A8A" stroke-width="1.6"/>
<line x1="1386.5" y1="1410.5" x2="1396.5" y2="1408.5" stroke="#F4F4F4" stroke-width="2.4" stroke-linecap="round"/>
<path d="M1398.0,1418.5 Q1404.0,1413 1407.0,1405.5" fill="none" stroke="#8A8A8A" stroke-width="1.6"/>
<line x1="1409.0" y1="1410.5" x2="1419.0" y2="1408.5" stroke="#F4F4F4" stroke-width="2.4" stroke-linecap="round"/>
<path d="M1420.5,1418.5 Q1426.5,1413 1429.5,1405.5" fill="none" stroke="#8A8A8A" stroke-width="1.6"/>
<rect x="1309" y="714" width="62" height="15" fill="#C6C6C6" opacity="0.55"/>
<path d="M1297,700 L1300,700 L1300,746 L1297,746 Z M1383,700 L1386,700 L1386,746 L1383,746 Z" fill="#8E8E8E"/>
<defs><linearGradient id="shadg" x1="0" y1="0" x2="1" y2="0"><stop offset="0" stop-color="#7E7E7E" stop-opacity="0.9"/><stop offset="1" stop-color="#9A9A9A" stop-opacity="0.5"/></linearGradient><linearGradient id="strapg" x1="0" y1="0" x2="1" y2="0"><stop offset="0" stop-color="#9A9A9A"/><stop offset="0.7" stop-color="#A8A8A8"/><stop offset="1" stop-color="#BDBDBD"/></linearGradient></defs>
<path d="M1395,1074 L1446,1080 L1441,1093 L1397,1103 Z" fill="url(#shadg)"/>
<path d="M1449,1075 Q1452,1066 1470,1066 Q1490,1068 1491,1078 Q1488,1086 1478,1090 Z" fill="#F6F6F6" stroke="#BEBEBE" stroke-width="0.9"/>
<path d="M1355.3,1111.5 L1468,1079.5 Q1479.8,1078 1479.8,1085 L1479.8,1095 L1360.2,1128 Z" fill="url(#strapg)"/>
<path d="M1355.3,1111.5 L1468,1079.5 Q1479.8,1078 1479.8,1085 L1478,1086 L1358,1115.5 Z" fill="#CFCFCF"/>
<path d="M1355.3,1111.5 L1358,1115.5 L1362,1128 L1360.2,1128 Z" fill="#8A8A8A"/>
<path d="M1139.2,334.7 L1151.5,334.7 L1151.5,555.4 L1169,555.4 L1145.8,619.3 L1122.7,555.4 L1139.2,555.4 Z" fill="#FFFFFF" stroke="#FFFFFF" stroke-width="11" stroke-linejoin="round"/>
<path d="M1139.2,334.7 L1151.5,334.7 L1151.5,555.4 L1169,555.4 L1145.8,619.3 L1122.7,555.4 L1139.2,555.4 Z" fill="#93117E"/>
<path d="M1513.9,334.7 L1526.7,334.7 L1526.7,555.4 L1544.2,555.4 L1521,619.3 L1497.8,555.4 L1513.9,555.4 Z" fill="#FFFFFF" stroke="#FFFFFF" stroke-width="11" stroke-linejoin="round"/>
<path d="M1513.9,334.7 L1526.7,334.7 L1526.7,555.4 L1544.2,555.4 L1521,619.3 L1497.8,555.4 L1513.9,555.4 Z" fill="#93117E"/>
<circle cx="1162" cy="99.8" r="47" fill="#93117E"/>
<path transform="translate(1100,40) scale(0.075)" fill="#FFFFFF" d="M650,690 C650,605 720,545 820,545 C920,545 990,605 990,690 C990,740 965,775 930,795 C970,815 995,855 995,905 C995,995 920,1055 820,1055 C710,1055 645,990 645,905 L755,905 C755,940 782,960 820,960 C860,960 885,935 885,898 C885,865 860,845 820,845 L750,845 L750,750 L815,750 C850,750 875,730 875,695 C875,660 850,640 818,640 C785,640 760,660 760,690 Z"/>
</g>
</svg></body></html>
